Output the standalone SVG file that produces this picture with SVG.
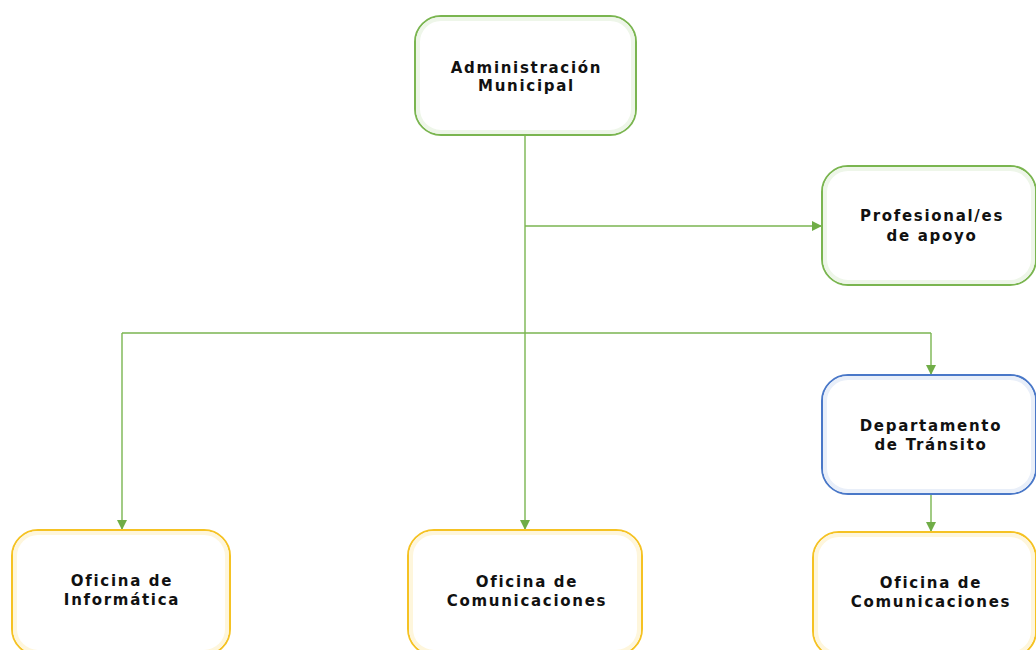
<svg xmlns="http://www.w3.org/2000/svg" width="1036" height="650" viewBox="0 0 1036 650">
<style>
.box{fill:#fff;stroke-width:2}
.g{stroke:#7ab550}
.b{stroke:#4a78c8}
.y{stroke:#f5c223}
.gi{fill:none;stroke:#eef6e9;stroke-width:4}
.bi{fill:none;stroke:#e9eff9;stroke-width:4}
.yi{fill:none;stroke:#fef6dc;stroke-width:4}
.t{font-family:"DejaVu Sans","Liberation Sans",sans-serif;font-weight:bold;font-size:15px;letter-spacing:1.7px;fill:#111;text-anchor:middle}
.c{fill:none;stroke:#7ab550;stroke-width:1.4}
</style>
<defs>
<marker id="arr" viewBox="0 0 10 10" refX="10" refY="5" markerWidth="10" markerHeight="10" markerUnits="userSpaceOnUse" orient="auto">
<path d="M0,0 L10,5 L0,10 Z" fill="#70ad47"/>
</marker>
</defs>
<g id="connectors">
<path class="c" d="M525,135 V530" marker-end="url(#arr)"/>
<path class="c" d="M525,226 H822" marker-end="url(#arr)"/>
<path class="c" d="M122,333 H931"/>
<path class="c" d="M122,333 V530" marker-end="url(#arr)"/>
<path class="c" d="M931,333 V375" marker-end="url(#arr)"/>
<path class="c" d="M931,494 V532" marker-end="url(#arr)"/>
</g>
<g id="admin">
<rect class="box g" x="415" y="16" width="221" height="119" rx="26"/>
<rect class="gi" x="418" y="19" width="215" height="113" rx="23"/>
<text class="t" x="526.5" y="73">Administración</text>
<text class="t" x="526.5" y="91">Municipal</text>
</g>
<g id="profesional">
<rect class="box g" x="822" y="166" width="214" height="119" rx="26"/>
<rect class="gi" x="825" y="169" width="208" height="113" rx="23"/>
<text class="t" x="932" y="221">Profesional/es</text>
<text class="t" x="932" y="241">de apoyo</text>
</g>
<g id="transito">
<rect class="box b" x="822" y="375" width="214" height="119" rx="26"/>
<rect class="bi" x="825" y="378" width="208" height="113" rx="23"/>
<text class="t" x="931" y="431">Departamento</text>
<text class="t" x="931" y="450">de Tránsito</text>
</g>
<g id="informatica">
<rect class="box y" x="12" y="530" width="218" height="125" rx="26"/>
<rect class="yi" x="15" y="533" width="212" height="119" rx="23"/>
<text class="t" x="122" y="586">Oficina de</text>
<text class="t" x="122" y="605">Informática</text>
</g>
<g id="comunicaciones1">
<rect class="box y" x="408" y="530" width="234" height="125" rx="26"/>
<rect class="yi" x="411" y="533" width="228" height="119" rx="23"/>
<text class="t" x="527" y="587">Oficina de</text>
<text class="t" x="527" y="606">Comunicaciones</text>
</g>
<g id="comunicaciones2">
<rect class="box y" x="813" y="532" width="223" height="125" rx="26"/>
<rect class="yi" x="816" y="535" width="217" height="119" rx="23"/>
<text class="t" x="931" y="588">Oficina de</text>
<text class="t" x="931" y="607">Comunicaciones</text>
</g>
</svg>
